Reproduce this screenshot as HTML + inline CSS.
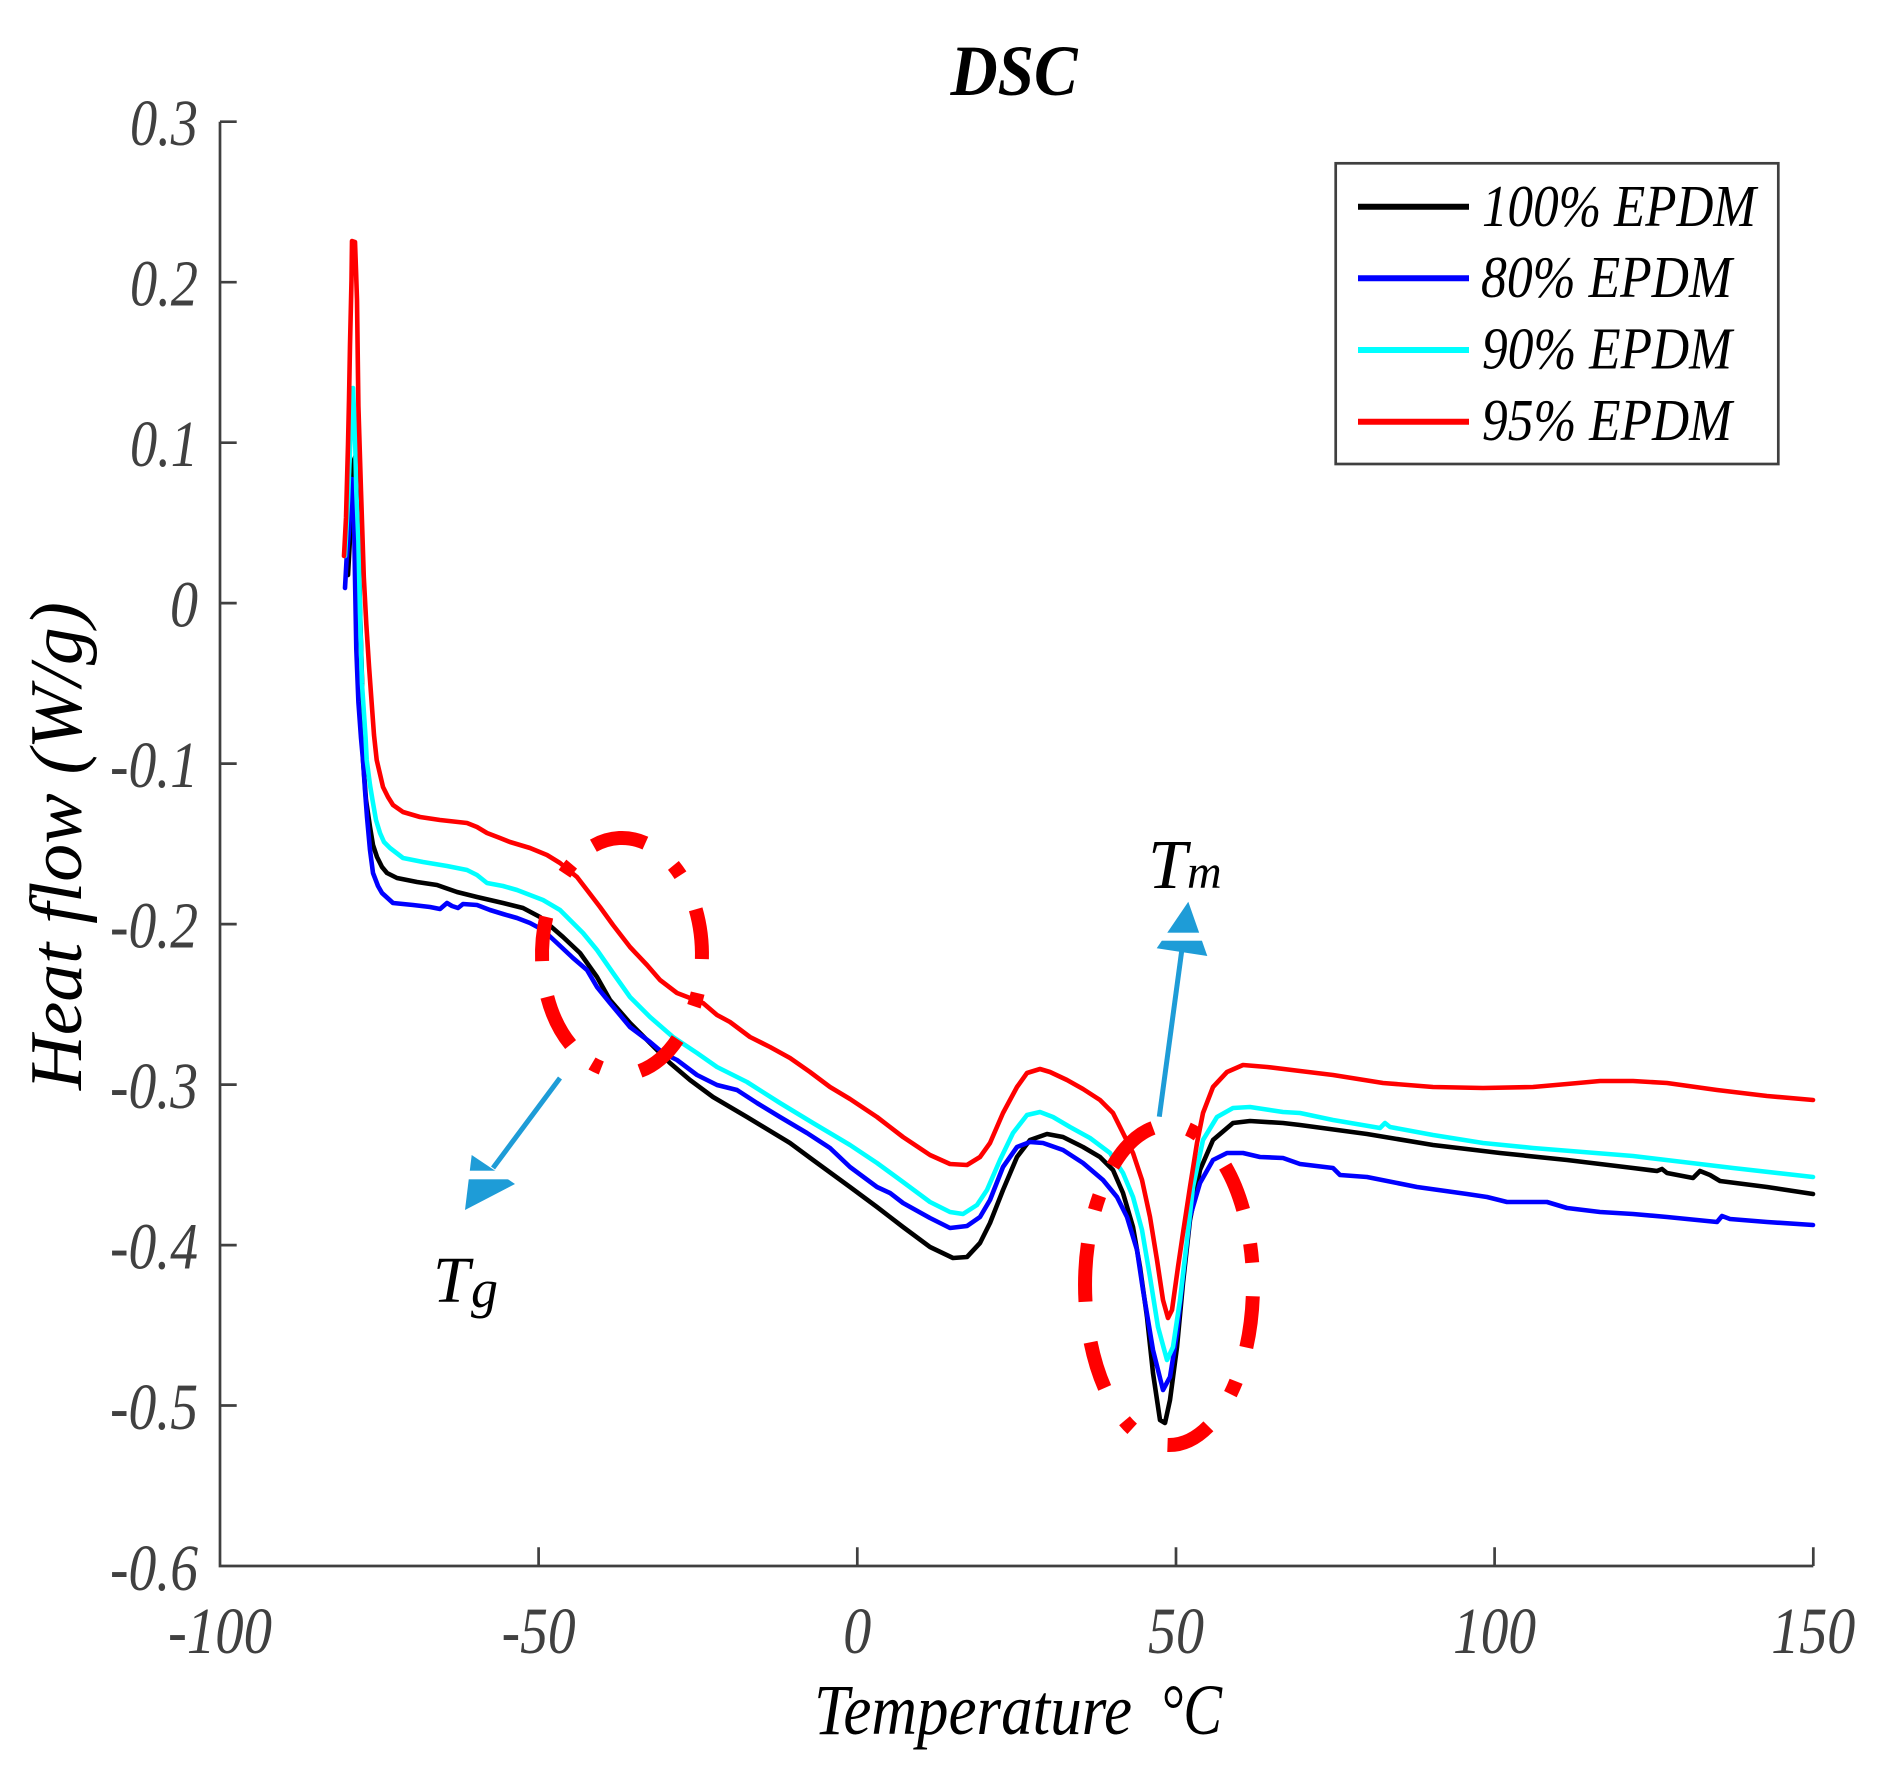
<!DOCTYPE html>
<html>
<head>
<meta charset="utf-8">
<style>
html,body{margin:0;padding:0;background:#fff;}
svg{display:block;}
text{font-family:"Liberation Serif","DejaVu Serif",serif;font-style:italic;}
</style>
</head>
<body>
<svg width="1899" height="1768" viewBox="0 0 1899 1768" xmlns="http://www.w3.org/2000/svg">
<rect x="0" y="0" width="1899" height="1768" fill="#fff"/>

<!-- Title -->
<text x="1014" y="95" font-size="72" font-weight="bold" text-anchor="middle" textLength="127" lengthAdjust="spacingAndGlyphs" fill="#000">DSC</text>

<!-- Axes -->
<g stroke="#404040" stroke-width="2.7" fill="none">
<path d="M220,121.7 L220,1566 L1813.3,1566"/>
<path d="M220,121.7 h16.7 M220,282.2 h16.7 M220,442.7 h16.7 M220,603.1 h16.7 M220,763.6 h16.7 M220,924.1 h16.7 M220,1084.6 h16.7 M220,1245.1 h16.7 M220,1405.5 h16.7"/>
<path d="M538.6,1566 v-18.7 M857.3,1566 v-18.7 M1176,1566 v-18.7 M1494.6,1566 v-18.7 M1813.3,1566 v-18.7"/>
</g>

<!-- Y tick labels -->
<g font-size="66" fill="#404040" text-anchor="end">
<text x="198" y="145" textLength="68" lengthAdjust="spacingAndGlyphs">0.3</text>
<text x="198" y="305.5" textLength="68" lengthAdjust="spacingAndGlyphs">0.2</text>
<text x="198" y="466" textLength="68" lengthAdjust="spacingAndGlyphs">0.1</text>
<text x="198" y="626.5" textLength="28" lengthAdjust="spacingAndGlyphs">0</text>
<text x="198" y="787" textLength="88" lengthAdjust="spacingAndGlyphs">-0.1</text>
<text x="198" y="947.5" textLength="88" lengthAdjust="spacingAndGlyphs">-0.2</text>
<text x="198" y="1108" textLength="88" lengthAdjust="spacingAndGlyphs">-0.3</text>
<text x="198" y="1268.5" textLength="88" lengthAdjust="spacingAndGlyphs">-0.4</text>
<text x="198" y="1429" textLength="88" lengthAdjust="spacingAndGlyphs">-0.5</text>
<text x="198" y="1590" textLength="88" lengthAdjust="spacingAndGlyphs">-0.6</text>
</g>

<!-- X tick labels -->
<g font-size="66" fill="#404040" text-anchor="middle">
<text x="220" y="1653" textLength="104" lengthAdjust="spacingAndGlyphs">-100</text>
<text x="538.6" y="1653" textLength="74" lengthAdjust="spacingAndGlyphs">-50</text>
<text x="857.3" y="1653" textLength="28" lengthAdjust="spacingAndGlyphs">0</text>
<text x="1176" y="1653" textLength="56" lengthAdjust="spacingAndGlyphs">50</text>
<text x="1494.6" y="1653" textLength="83" lengthAdjust="spacingAndGlyphs">100</text>
<text x="1813.3" y="1653" textLength="84" lengthAdjust="spacingAndGlyphs">150</text>
</g>

<!-- Axis labels -->
<text x="814" y="1734" font-size="72" fill="#000" textLength="318" lengthAdjust="spacingAndGlyphs">Temperature</text>
<text x="1160" y="1734" font-size="72" fill="#000" textLength="62" lengthAdjust="spacingAndGlyphs">°C</text>
<text transform="translate(81,846) rotate(-90)" font-size="74" fill="#000" text-anchor="middle" textLength="488" lengthAdjust="spacingAndGlyphs">Heat flow (W/g)</text>

<!-- Curves -->
<g fill="none" stroke-width="4.6" stroke-linejoin="round" stroke-linecap="round">
<path stroke="#000000" d="M348,575 L351,520 L354,460 L356,455 L358,520 L360,610 L362,680 L363,760 L366,800 L370,827 L373,845 L377,857 L382,867 L387,873 L397,878 L417,882 L437,885 L457,892 L477,897 L503,903 L523,908 L540,917 L563,937 L580,953 L597,977 L610,1000 L630,1023 L650,1043 L670,1063 L690,1080 L713,1097 L747,1117 L790,1143 L813,1160 L850,1187 L877,1207 L903,1227 L930,1247 L953,1258 L967,1257 L980,1243 L990,1223 L1003,1190 L1017,1157 L1030,1140 L1047,1134 L1063,1137 L1083,1147 L1100,1157 L1113,1170 L1123,1193 L1133,1227 L1140,1267 L1147,1317 L1153,1373 L1160,1420 L1165,1423 L1170,1400 L1177,1347 L1183,1283 L1190,1220 L1200,1170 L1213,1140 L1233,1123 L1250,1121 L1283,1123 L1300,1125 L1367,1134 L1433,1145 L1500,1153 L1567,1160 L1633,1168 L1657,1171 L1662,1169 L1667,1173 L1693,1178 L1700,1171 L1710,1175 L1720,1181 L1767,1187 L1813,1194"/>
<path stroke="#0000ff" d="M345,588 L346.6,559 L349,531 L351,490 L352,479 L353.8,499 L355,577 L356.3,649 L358.4,702 L361,738 L363,760 L365,790 L367,817 L370,850 L373,873 L378,886 L382,893 L393,903 L413,905 L430,907 L440,909 L447,903 L452,906 L458,908 L463,904 L477,905 L490,910 L503,914 L517,918 L530,923 L543,930 L557,943 L573,958 L587,970 L597,987 L610,1003 L630,1027 L650,1042 L663,1053 L677,1060 L697,1075 L717,1085 L737,1090 L757,1103 L780,1117 L807,1133 L830,1148 L850,1167 L877,1187 L890,1193 L903,1203 L930,1218 L950,1228 L967,1226 L980,1217 L990,1200 L1003,1167 L1017,1147 L1030,1142 L1043,1143 L1063,1150 L1083,1163 L1103,1180 L1117,1197 L1127,1217 L1137,1250 L1143,1290 L1153,1350 L1163,1390 L1170,1377 L1177,1333 L1183,1277 L1190,1217 L1200,1183 L1213,1160 L1227,1153 L1243,1153 L1260,1157 L1283,1158 L1300,1164 L1333,1168 L1340,1175 L1367,1177 L1417,1187 L1467,1194 L1487,1197 L1507,1202 L1520,1202 L1547,1202 L1567,1208 L1600,1212 L1633,1214 L1667,1217 L1717,1222 L1722,1216 L1730,1219 L1767,1222 L1813,1225"/>
<path stroke="#00ffff" d="M345,556 L348,500 L350,450 L352,410 L353,388 L355,434 L356.3,491 L358.4,541 L360,613 L362,684 L365.6,738 L366.7,760 L370,785 L373,803 L376,820 L380,833 L384,842 L390,848 L403,858 L423,862 L447,866 L467,870 L477,875 L487,883 L503,886 L517,890 L530,895 L543,900 L560,910 L570,920 L583,933 L597,950 L613,973 L630,997 L650,1017 L673,1037 L697,1053 L717,1067 L747,1082 L780,1103 L813,1123 L850,1145 L877,1163 L903,1182 L930,1202 L950,1212 L963,1214 L977,1205 L987,1190 L1000,1160 L1013,1133 L1027,1115 L1040,1112 L1053,1117 L1070,1127 L1090,1138 L1110,1153 L1123,1173 L1133,1197 L1142,1230 L1150,1277 L1158,1327 L1167,1360 L1173,1347 L1180,1300 L1187,1240 L1193,1187 L1203,1140 L1217,1117 L1233,1108 L1250,1107 L1283,1112 L1300,1113 L1333,1120 L1380,1128 L1385,1123 L1390,1127 L1433,1135 L1483,1143 L1533,1148 L1583,1152 L1633,1156 L1683,1162 L1733,1168 L1813,1177"/>
<path stroke="#ff0000" d="M344,556 L346,518 L348,445 L349,400 L350,345 L351.5,280 L352,241 L355,242 L356,270 L357,300 L358.4,406 L361,491 L363.8,577 L366.3,624 L369,666 L371.6,702 L374,735 L376.7,760 L383,787 L388,797 L393,805 L403,812 L420,817 L440,820 L467,823 L477,827 L487,833 L500,838 L510,842 L530,848 L547,855 L560,863 L577,877 L587,890 L600,907 L613,925 L630,947 L647,965 L660,980 L677,993 L690,998 L703,1003 L717,1015 L730,1022 L750,1037 L770,1047 L790,1058 L810,1072 L830,1087 L850,1099 L877,1117 L903,1137 L930,1155 L950,1164 L967,1165 L980,1157 L990,1143 L1003,1113 L1017,1087 L1027,1073 L1040,1069 L1050,1072 L1067,1080 L1083,1089 L1100,1100 L1113,1113 L1123,1133 L1133,1153 L1142,1180 L1150,1217 L1157,1260 L1163,1300 L1168,1318 L1172,1310 L1178,1267 L1183,1233 L1190,1187 L1197,1143 L1203,1113 L1213,1087 L1227,1072 L1243,1065 L1267,1067 L1300,1071 L1333,1075 L1383,1083 L1433,1087 L1483,1088 L1533,1087 L1567,1084 L1600,1081 L1633,1081 L1667,1083 L1717,1090 L1767,1096 L1813,1100"/>
</g>

<!-- Dash-dot ellipses -->
<g fill="none" stroke="#ff0000" stroke-width="14" stroke-linecap="butt">
<path d="M593.4,845.7 A80,117 0 0 1 645.4,843.1"/>
<path d="M673.4,865.4 A80,117 0 0 1 680.5,875.2"/>
<path d="M695.7,909.3 A80,117 0 0 1 701.9,959.1"/>
<path d="M697.7,993.1 A80,117 0 0 1 693.9,1006.3"/>
<path d="M677.6,1039.1 A80,117 0 0 1 640.0,1071.0"/>
<path d="M601.3,1068.0 A80,117 0 0 1 592.0,1063.5"/>
<path d="M570.6,1044.6 A80,117 0 0 1 547.3,996.9"/>
<path d="M542.1,961.1 A80,117 0 0 1 546.3,916.9"/>
<path d="M564.5,873.7 A80,117 0 0 1 571.7,864.1"/>
<path d="M1112.8,1166.1 A84,160 0 0 1 1153.0,1127.9"/>
<path d="M1187.9,1129.1 A84,160 0 0 1 1197.7,1134.6"/>
<path d="M1225.2,1166.1 A84,160 0 0 1 1243.2,1209.9"/>
<path d="M1250.1,1243.6 A84,160 0 0 1 1252.2,1262.7"/>
<path d="M1252.8,1296.2 A84,160 0 0 1 1246.3,1347.5"/>
<path d="M1236.1,1381.3 A84,160 0 0 1 1230.4,1394.1"/>
<path d="M1208.4,1426.3 A84,160 0 0 1 1167.5,1445.0"/>
<path d="M1132.2,1428.8 A84,160 0 0 1 1124.5,1420.7"/>
<path d="M1104.7,1387.9 A84,160 0 0 1 1090.6,1342.3"/>
<path d="M1085.5,1301.7 A84,160 0 0 1 1087.9,1243.6"/>
<path d="M1094.8,1210.0 A84,160 0 0 1 1099.4,1195.6"/>
</g>

<!-- Arrows -->
<g stroke="#1e9cd7" stroke-width="5" fill="none">
<path d="M560,1078 L493,1168"/>
<path d="M1159.3,1116.7 L1181.7,951"/>
</g>
<g fill="#1e9cd7">
<polygon points="465,1210 471.7,1155 515,1184"/>
<polygon points="1188.3,901.7 1156.7,948.3 1207.3,956"/>
</g>
<g fill="#fff">
<rect x="455" y="1170.7" width="70" height="8.6"/>
<rect x="1145" y="932.7" width="75" height="8"/>
</g>

<!-- Annotations -->
<text x="1148" y="888" font-size="70" fill="#000">T</text>
<text x="1187" y="888" font-size="48" fill="#000">m</text>
<text x="433" y="1302" font-size="66" fill="#000">T</text>
<text x="471" y="1307" font-size="54" fill="#000">g</text>

<!-- Legend -->
<rect x="1335.7" y="163.3" width="442.6" height="300.7" fill="#fff" stroke="#404040" stroke-width="2.7"/>
<g stroke-width="6">
<line x1="1358" y1="206.7" x2="1469" y2="206.7" stroke="#000000"/>
<line x1="1358" y1="278.3" x2="1469" y2="278.3" stroke="#0000ff"/>
<line x1="1358" y1="350" x2="1469" y2="350" stroke="#00ffff"/>
<line x1="1358" y1="421.7" x2="1469" y2="421.7" stroke="#ff0000"/>
</g>
<g font-size="59" fill="#000">
<text x="1482" y="226" textLength="274" lengthAdjust="spacingAndGlyphs">100% EPDM</text>
<text x="1481" y="297" textLength="251" lengthAdjust="spacingAndGlyphs">80% EPDM</text>
<text x="1482" y="368.5" textLength="250" lengthAdjust="spacingAndGlyphs">90% EPDM</text>
<text x="1482" y="440" textLength="250" lengthAdjust="spacingAndGlyphs">95% EPDM</text>
</g>
</svg>
</body>
</html>
